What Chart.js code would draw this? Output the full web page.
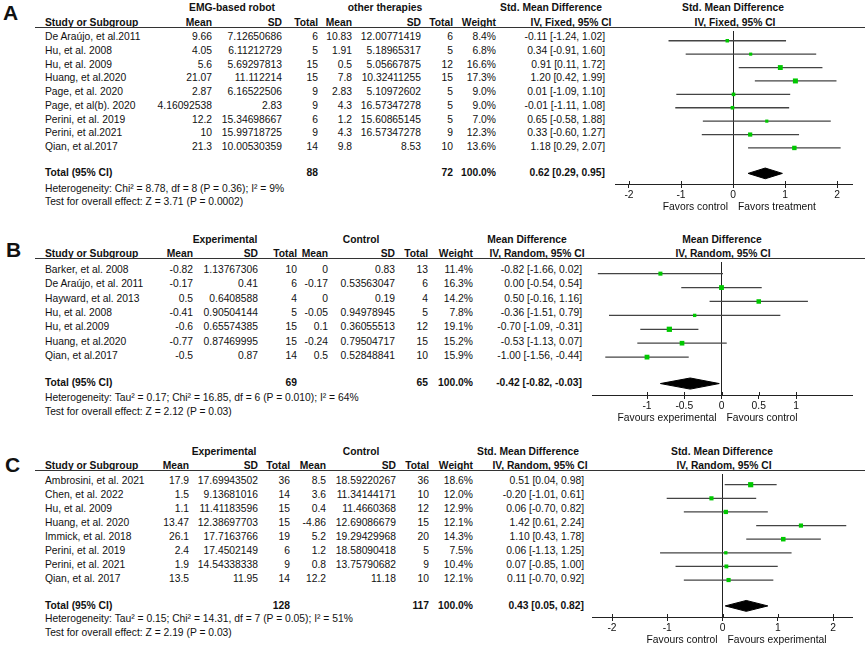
<!DOCTYPE html>
<html>
<head>
<meta charset="utf-8">
<script src="https://cdn.jsdelivr.net/npm/chart.js@4.4.0/dist/chart.umd.min.js"></script>
<style>
body { margin: 0; background: #fff; }
#fig { position: relative; width: 865px; height: 648px; overflow: hidden; background: #fff;
       font-family: "Liberation Sans", Arial, sans-serif; color: #111; }
.t { position: absolute; font-size: 10.3px; line-height: 12px; white-space: nowrap; }
.b { font-weight: bold; }
.letter { position: absolute; font-size: 21px; line-height: 24px; font-weight: bold; }
.hl { position: absolute; height: 1px; background: #333; }
canvas { position: absolute; }
</style>
</head>
<body>
<div id="fig"></div>
<script>
// ---- Panel A data ----
var studyA = ["De Araújo, et al.2011", "Hu, et al. 2008", "Hu, et al. 2009", "Huang, et al.2020", "Page, et al. 2020",
              "Page, et al(b). 2020", "Perini, et al. 2019", "Perini, et al.2021", "Qian, et al.2017"];
var expMeanA = [9.66, 4.05, 5.6, 21.07, 2.87, 4.16092538, 12.2, 10, 21.3];
var expSdA = [7.12650686, 6.11212729, 5.69297813, 11.112214, 6.16522506, 2.83, 15.34698667, 15.99718725, 10.00530359];
var expNA = [6, 5, 15, 15, 9, 9, 6, 9, 14];
var ctlMeanA = [10.83, 1.91, 0.5, 7.8, 2.83, 4.3, 1.2, 4.3, 9.8];
var ctlSdA = [12.00771419, 5.18965317, 5.05667875, 10.32411255, 5.10972602, 16.57347278, 15.60865145, 16.57347278, 8.53];
var ctlNA = [6, 5, 12, 15, 5, 5, 5, 9, 10];
var weightA = [8.4, 6.8, 16.6, 17.3, 9.0, 9.0, 7.0, 12.3, 13.6];
var estA = [-0.11, 0.34, 0.91, 1.20, 0.01, -0.01, 0.65, 0.33, 1.18];
var loA = [-1.24, -0.91, 0.11, 0.42, -1.09, -1.11, -0.58, -0.60, 0.29];
var hiA = [1.02, 1.60, 1.72, 1.99, 1.10, 1.08, 1.88, 1.27, 2.07];
var pooledA = [0.62, 0.29, 0.95];
var totalNA = [88, 72];
var ticksA = [-2, -1, 0, 1, 2];
var groupA = ["EMG-based robot", "other therapies"];
var effectA = ["Std. Mean Difference", "IV, Fixed, 95% CI"];
var favA = ["Favors control", "Favors treatment"];
var hetA = "Heterogeneity: Chi² = 8.78, df = 8 (P = 0.36); I² = 9%";
var testA = "Test for overall effect: Z = 3.71 (P = 0.0002)";

// ---- Panel B data ----
var studyB = ["Barker, et al. 2008", "De Araújo, et al. 2011", "Hayward, et al. 2013", "Hu, et al. 2008",
              "Hu, et al.2009", "Huang, et al.2020", "Qian, et al.2017"];
var expMeanB = [-0.82, -0.17, 0.5, -0.41, -0.6, -0.77, -0.5];
var expSdB = [1.13767306, 0.41, 0.6408588, 0.90504144, 0.65574385, 0.87469995, 0.87];
var expNB = [10, 6, 4, 5, 15, 15, 14];
var ctlMeanB = [0, -0.17, 0, -0.05, 0.1, -0.24, 0.5];
var ctlSdB = [0.83, 0.53563047, 0.19, 0.94978945, 0.36055513, 0.79504717, 0.52848841];
var ctlNB = [13, 6, 4, 5, 12, 15, 10];
var weightB = [11.4, 16.3, 14.2, 7.8, 19.1, 15.2, 15.9];
var estB = [-0.82, 0.00, 0.50, -0.36, -0.70, -0.53, -1.00];
var loB = [-1.66, -0.54, -0.16, -1.51, -1.09, -1.13, -1.56];
var hiB = [0.02, 0.54, 1.16, 0.79, -0.31, 0.07, -0.44];
var pooledB = [-0.42, -0.82, -0.03];
var totalNB = [69, 65];
var ticksB = [-1, -0.5, 0, 0.5, 1];
var groupB = ["Experimental", "Control"];
var effectB = ["Mean Difference", "IV, Random, 95% CI"];
var favB = ["Favours experimental", "Favours control"];
var hetB = "Heterogeneity: Tau² = 0.17; Chi² = 16.85, df = 6 (P = 0.010); I² = 64%";
var testB = "Test for overall effect: Z = 2.12 (P = 0.03)";

// ---- Panel C data ----
var studyC = ["Ambrosini, et al. 2021", "Chen, et al. 2022", "Hu, et al. 2009", "Huang, et al. 2020",
              "Immick, et al. 2018", "Perini, et al. 2019", "Perini, et al. 2021", "Qian, et al. 2017"];
var expMeanC = [17.9, 1.5, 1.1, 13.47, 26.1, 2.4, 1.9, 13.5];
var expSdC = [17.69943502, 9.13681016, 11.41183596, 12.38697703, 17.7163766, 17.4502149, 14.54338338, 11.95];
var expNC = [36, 14, 15, 15, 19, 6, 9, 14];
var ctlMeanC = [8.5, 3.6, 0.4, -4.86, 5.2, 1.2, 0.8, 12.2];
var ctlSdC = [18.59220267, 11.34144171, 11.4660368, 12.69086679, 19.29429968, 18.58090418, 13.75790682, 11.18];
var ctlNC = [36, 10, 12, 15, 20, 5, 9, 10];
var weightC = [18.6, 12.0, 12.9, 12.1, 14.3, 7.5, 10.4, 12.1];
var estC = [0.51, -0.20, 0.06, 1.42, 1.10, 0.06, 0.07, 0.11];
var loC = [0.04, -1.01, -0.70, 0.61, 0.43, -1.13, -0.85, -0.70];
var hiC = [0.98, 0.61, 0.82, 2.24, 1.78, 1.25, 1.00, 0.92];
var pooledC = [0.43, 0.05, 0.82];
var totalNC = [128, 117];
var ticksC = [-2, -1, 0, 1, 2];
var groupC = ["Experimental", "Control"];
var effectC = ["Std. Mean Difference", "IV, Random, 95% CI"];
var favC = ["Favours control", "Favours experimental"];
var hetC = "Heterogeneity: Tau² = 0.15; Chi² = 14.31, df = 7 (P = 0.05); I² = 51%";
var testC = "Test for overall effect: Z = 2.19 (P = 0.03)";

var fig = document.getElementById('fig');
var FONT = '"Liberation Sans", Arial, sans-serif';

function txt(s, x, y, align, bold) {
  var d = document.createElement('div');
  d.className = 't' + (bold ? ' b' : '');
  d.textContent = s;
  d.style.top = (y - 6) + 'px';
  if (align === 'r') d.style.right = (865 - x) + 'px';
  else if (align === 'c') { d.style.left = x + 'px'; d.style.transform = 'translateX(-50%)'; }
  else d.style.left = x + 'px';
  fig.appendChild(d);
}

function f2(v) { return v.toFixed(2); }

// little plugin: favours labels under the axis + tick stubs crossing the axis line
var forestDecor = {
  id: 'forestDecor',
  afterDraw: function (chart, args, opts) {
    var ctx = chart.ctx, xs = chart.scales.x, area = chart.chartArea;
    ctx.save();
    ctx.strokeStyle = '#222';
    ctx.lineWidth = 1;
    xs.ticks.forEach(function (tk) {
      var px = Math.round(xs.getPixelForValue(tk.value)) + 0.5;
      ctx.beginPath();
      ctx.moveTo(px, area.bottom - 3);
      ctx.lineTo(px, area.bottom);
      ctx.stroke();
    });
    var x0 = xs.getPixelForValue(0);
    ctx.fillStyle = '#111';
    ctx.font = '10.3px ' + FONT;
    ctx.textBaseline = 'middle';
    ctx.textAlign = 'right';
    ctx.fillText(opts.labels[0], x0 - 5, area.bottom + opts.dy);
    ctx.textAlign = 'left';
    ctx.fillText(opts.labels[1], x0 + 5, area.bottom + opts.dy);
    ctx.restore();
  }
};

function panel(d, p) {
  var n = d.study.length;
  var tRow = n + p.totalOffset;
  function rowY(i) { return p.row0 + i * p.pitch; }

  // panel letter
  var L = document.createElement('div');
  L.className = 'letter';
  L.textContent = p.letter;
  L.style.left = p.letterX + 'px';
  L.style.top = (p.letterY - 12) + 'px';
  fig.appendChild(L);

  // header rows
  txt(d.group[0], p.g1, p.h1, 'c', true);
  txt(d.group[1], p.g2, p.h1, 'c', true);
  txt(d.effect[0], p.effHead, p.h1, 'c', true);
  txt(d.effect[0], p.plotHead, p.h1, 'c', true);
  txt("Study or Subgroup", 45, p.h2, 'l', true);
  var heads = ["Mean", "SD", "Total", "Mean", "SD", "Total", "Weight"];
  heads.forEach(function (h, k) { txt(h, p.cols[k], p.h2, 'r', true); });
  txt(d.effect[1], p.effSub, p.h2, 'c', true);
  txt(d.effect[1], p.plotSub, p.h2, 'c', true);
  var hl = document.createElement('div');
  hl.className = 'hl';
  hl.style.left = '35px'; hl.style.width = '830px'; hl.style.top = p.line + 'px';
  fig.appendChild(hl);

  // study rows
  d.study.forEach(function (s, i) {
    var y = rowY(i);
    txt(s, 45, y, 'l', false);
    txt(String(d.expMean[i]), p.cols[0], y, 'r');
    txt(String(d.expSd[i]), p.cols[1], y, 'r');
    txt(String(d.expN[i]), p.cols[2], y, 'r');
    txt(String(d.ctlMean[i]), p.cols[3], y, 'r');
    txt(String(d.ctlSd[i]), p.cols[4], y, 'r');
    txt(String(d.ctlN[i]), p.cols[5], y, 'r');
    txt(d.weight[i].toFixed(1) + '%', p.cols[6], y, 'r');
    txt(f2(d.est[i]) + ' [' + f2(d.lo[i]) + ', ' + f2(d.hi[i]) + ']', p.cols[7], y, 'r');
  });
  var ty = rowY(tRow);
  txt("Total (95% CI)", 45, ty, 'l', true);
  txt(String(d.totalN[0]), p.cols[2], ty, 'r', true);
  txt(String(d.totalN[1]), p.cols[5], ty, 'r', true);
  txt("100.0%", p.cols[6], ty, 'r', true);
  txt(f2(d.pooled[0]) + ' [' + f2(d.pooled[1]) + ', ' + f2(d.pooled[2]) + ']', p.cols[7], ty, 'r', true);
  txt(d.het, 45, p.het, 'l');
  txt(d.test, 45, p.test, 'l');

  // forest plot canvas
  var padL = 12, padR = 12, axisH = 34;
  var cv = document.createElement('canvas');
  var w = p.right - p.left + padL + padR;
  var h = p.axisY - p.line + axisH;
  cv.width = w; cv.height = h;
  cv.style.width = w + 'px'; cv.style.height = h + 'px';
  cv.style.left = (p.left - padL) + 'px';
  cv.style.top = p.line + 'px';
  fig.appendChild(cv);

  var datasets = [{
    data: d.est.map(function (v, i) { return { x: v, y: i }; }),
    pointStyle: 'rect',
    pointRadius: d.weight.map(function (wt) { return 1.2 * Math.sqrt(wt) / Math.SQRT2; }),
    backgroundColor: '#00c800',
    borderColor: '#00c800',
    borderWidth: 0,
    order: 0
  }];
  d.lo.forEach(function (lo, i) {
    datasets.push({
      data: [{ x: lo, y: i }, { x: d.hi[i], y: i }],
      showLine: true, borderColor: '#444', borderWidth: 1.3, pointRadius: 0, order: 1
    });
  });
  var pe = d.pooled;
  datasets.push({
    data: [{ x: pe[1], y: tRow }, { x: pe[0], y: tRow - 0.4 }, { x: pe[2], y: tRow },
           { x: pe[0], y: tRow + 0.4 }, { x: pe[1], y: tRow }],
    showLine: true, fill: 'shape', backgroundColor: '#000', borderColor: '#000',
    borderWidth: 1, pointRadius: 0, tension: 0, order: 1
  });

  new Chart(cv.getContext('2d'), {
    type: 'scatter',
    data: { datasets: datasets },
    plugins: [forestDecor],
    options: {
      responsive: false,
      animation: false,
      events: [],
      layout: { padding: { left: padL, right: padR, top: 0, bottom: 0 } },
      plugins: {
        legend: { display: false },
        tooltip: { enabled: false },
        forestDecor: { labels: d.fav, dy: 23.5 }
      },
      scales: {
        x: {
          type: 'linear',
          min: (p.left - p.zero) / p.unit,
          max: (p.right - p.zero) / p.unit,
          afterBuildTicks: function (s) { s.ticks = d.ticks.map(function (v) { return { value: v }; }); },
          afterFit: function (s) { s.height = axisH; },
          ticks: {
            autoSkip: false, maxRotation: 0, padding: 1, color: '#111',
            font: { family: FONT, size: 10.3 },
            callback: function (v) { return String(v); }
          },
          grid: {
            color: function (c) { return c.tick && c.tick.value === 0 ? '#222' : 'rgba(0,0,0,0)'; },
            lineWidth: 1, drawTicks: true, tickLength: 4, tickColor: '#222', tickWidth: 1
          },
          border: { display: true, color: '#222', width: 1 }
        },
        y: {
          type: 'linear',
          reverse: true,
          display: false,
          min: (p.line - p.row0) / p.pitch,
          max: (p.axisY - p.row0) / p.pitch
        }
      }
    }
  });
}

panel({ study: studyA, expMean: expMeanA, expSd: expSdA, expN: expNA, ctlMean: ctlMeanA, ctlSd: ctlSdA, ctlN: ctlNA,
        weight: weightA, est: estA, lo: loA, hi: hiA, pooled: pooledA, totalN: totalNA, ticks: ticksA,
        group: groupA, effect: effectA, fav: favA, het: hetA, test: testA },
      { letter: 'A', letterX: 3, letterY: 13, h1: 8, h2: 23, line: 27, row0: 37, pitch: 13.75, totalOffset: 0.9,
        het: 189, test: 202, cols: [212, 282, 318, 352, 421, 453, 496, 605],
        g1: 232, g2: 385, effHead: 551, effSub: 571, plotHead: 733, plotSub: 735,
        left: 615, right: 852, axisY: 184, zero: 733, unit: 52 });

panel({ study: studyB, expMean: expMeanB, expSd: expSdB, expN: expNB, ctlMean: ctlMeanB, ctlSd: ctlSdB, ctlN: ctlNB,
        weight: weightB, est: estB, lo: loB, hi: hiB, pooled: pooledB, totalN: totalNB, ticks: ticksB,
        group: groupB, effect: effectB, fav: favB, het: hetB, test: testB },
      { letter: 'B', letterX: 6, letterY: 250, h1: 240, h2: 254, line: 258, row0: 270, pitch: 14.33, totalOffset: 0.9,
        het: 398, test: 412, cols: [193, 258, 297, 328, 395, 428, 473, 582],
        g1: 225, g2: 361, effHead: 527, effSub: 537, plotHead: 722, plotSub: 723,
        left: 592, right: 852, axisY: 395, zero: 721.5, unit: 74.5 });

panel({ study: studyC, expMean: expMeanC, expSd: expSdC, expN: expNC, ctlMean: ctlMeanC, ctlSd: ctlSdC, ctlN: ctlNC,
        weight: weightC, est: estC, lo: loC, hi: hiC, pooled: pooledC, totalN: totalNC, ticks: ticksC,
        group: groupC, effect: effectC, fav: favC, het: hetC, test: testC },
      { letter: 'C', letterX: 5, letterY: 465, h1: 452, h2: 466, line: 470, row0: 481, pitch: 14, totalOffset: 0.9,
        het: 619, test: 633, cols: [189, 258, 290, 326, 396, 429, 473, 584],
        g1: 224, g2: 361, effHead: 528, effSub: 540, plotHead: 722, plotSub: 724,
        left: 592, right: 852, axisY: 617, zero: 722.5, unit: 55.25 });
</script>
</body>
</html>
